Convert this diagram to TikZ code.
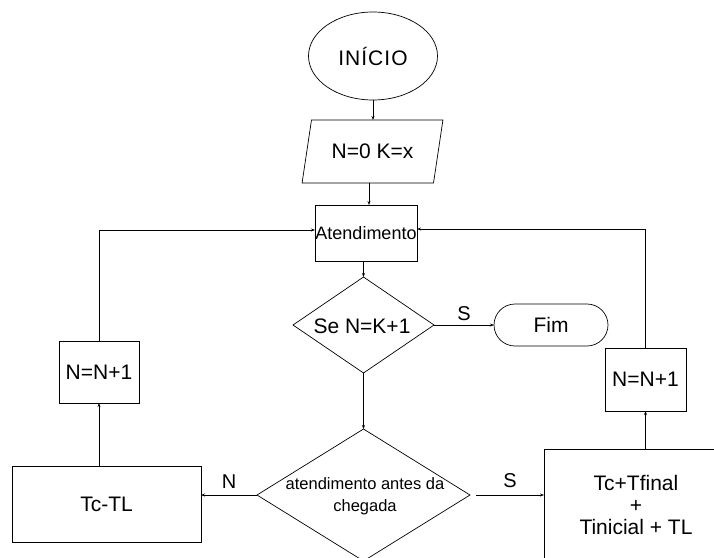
\documentclass[tikz,border=0pt]{standalone}
\usepackage{fontspec}
\setmainfont{Liberation Sans}
\usetikzlibrary{shapes.geometric,arrows.meta}
\begin{document}
\begin{tikzpicture}[x=1pt,y=-1pt,
  every node/.style={inner sep=0pt,outer sep=0pt},
  shp/.style={draw,line width=0.7pt},
  terminal/.style={shp,ellipse},
  io/.style={shp,trapezium,trapezium left angle=67,trapezium right angle=113,trapezium stretches=true},
  proc/.style={shp,rectangle},
  stop/.style={shp,rectangle,rounded corners=21pt},
  dec/.style={shp,diamond},
  flow/.style={line width=0.7pt,-{Stealth[length=4pt,width=3pt]}},
  lbl/.style={font=\fontsize{20}{22}\selectfont},
  big/.style={font=\fontsize{21}{24}\selectfont}]
\useasboundingbox (0,0) rectangle (714,557);
\clip (0,0) rectangle (714,557);

% start and input
\node[terminal,big,minimum width=129,minimum height=88] (ini) at (373,56) {I\kern1ptN\kern1ptÍ\kern1ptC\kern1ptI\kern1ptO};
\node[io,big,minimum width=141,minimum height=63] (inp) at (372.5,151.5) {N=0 K=x};

% service block
\node[proc,font=\fontsize{18}{20}\selectfont,minimum width=102,minimum height=56] (atd) at (366,233) {Atendimento};

% first decision and end
\node[dec,minimum width=141,minimum height=96] (d1) at (363.5,325) {};
\node[big] (d1t) at (362,326) {Se N=K+1};
\node[stop,big,minimum width=114,minimum height=42] (fim) at (551,325) {Fim};

% second decision
\node[dec,minimum width=213,minimum height=132] (d2) at (363.5,495) {};
\node[font=\fontsize{16.5}{22}\selectfont,align=center] (d2t) at (365,496) {atendimento antes da\\chegada};

% left branch
\node[proc,big,minimum width=189,minimum height=76] (tc) at (106.5,504) {Tc-TL};
\node[proc,big,minimum width=80,minimum height=62] (nl) at (99,372) {N=N+1};

% right branch
\node[proc,minimum width=184,minimum height=116] (tf) at (636,507) {};
\node[big,align=center,font=\fontsize{21}{22}\selectfont] (tft) at (636,505) {Tc+Tfinal\\+\\Tinicial + TL};
\node[proc,big,minimum width=81,minimum height=63] (nr) at (645.5,379.5) {N=N+1};

% connectors
\draw[flow] (ini.south) -- (inp.north -| ini.south);
\draw[flow] ([xshift=-3.5pt]inp.south) -- ([xshift=-3.5pt]inp.south |- atd.north);
\draw[flow] (d1.north |- atd.south) -- (d1.north);
\draw[flow] (d1.east) -- node[lbl,above=4pt] {S} (fim.west);
\draw[flow] (d1.south) -- (d2.north);
\draw[flow] (d2.west) -- node[lbl,above=7pt] {N} (d2.west -| tc.east);
\draw[flow] ([xshift=6pt]d2.east) -- node[lbl,above=7pt] {S} (d2.east -| tf.west);
\draw[flow] (nl.south |- tc.north) -- (nl.south);
\draw[flow] (nl.north) |- ([yshift=3pt]atd.west);
\draw[flow] (nr.south |- tf.north) -- (nr.south);
\draw[flow] (nr.north) |- ([yshift=4pt]atd.east);
\end{tikzpicture}
\end{document}
